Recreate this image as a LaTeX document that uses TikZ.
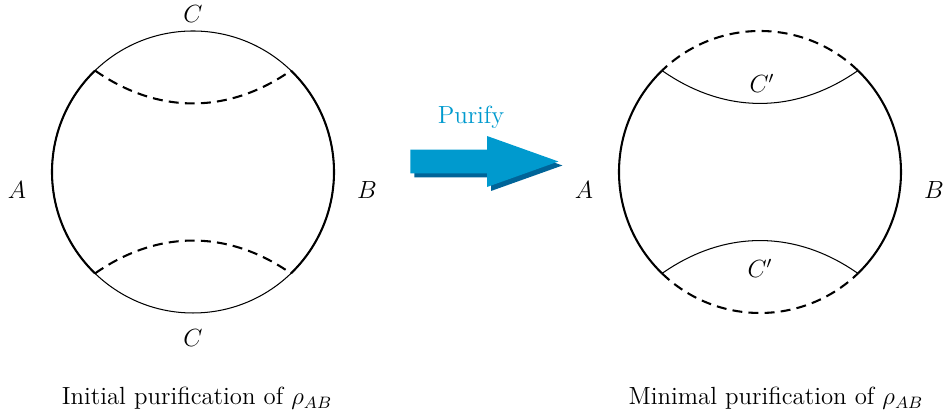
\documentclass[tikz,border=0pt]{standalone}
\usepackage{tikz}
\usetikzlibrary{arrows.meta,positioning,shapes.arrows,shadows}
\definecolor{purifyblue}{RGB}{0,154,206}
\definecolor{purifyshade}{RGB}{0,100,152}

\begin{document}
\begin{tikzpicture}[
  x=0.017cm, y=0.017cm,
  thinarc/.style={line width=0.5pt},
  sidearc/.style={line width=1pt},
  cut/.style={line width=1pt, dash pattern=on 4.8pt off 3pt},
  lbl/.style={font=\large, inner sep=1pt},
  bigarrow/.style={single arrow, fill=purifyblue, draw=none,
                   minimum height=2.516cm, inner xsep=0pt, inner ysep=0.1955cm,
                   single arrow head extend=0.2295cm, single arrow tip angle=39.3,
                   drop shadow={shadow xshift=0.068cm, shadow yshift=-0.068cm,
                                fill=purifyshade, opacity=1}}
]
\useasboundingbox (0,0) rectangle (946,416);

% === Left disk: initial purification ===
\coordinate (lc) at (193,244);
\coordinate (ltl) at ([shift={(lc)}]134:141);
\coordinate (ltr) at ([shift={(lc)}]46:141);
\coordinate (lbl) at ([shift={(lc)}]226:141);
\coordinate (lbr) at ([shift={(lc)}]314:141);

\draw[thinarc] (lc) circle[radius=141];
\draw[sidearc] (ltl) arc[start angle=134, end angle=226, radius=141];
\draw[sidearc] (lbr) arc[start angle=-46, end angle=46, radius=141];
\draw[cut] (ltl) to[bend right=35] (ltr);
\draw[cut] (lbl) to[bend left=35] (lbr);

\node[lbl] (lC1) at (193,402) {$C$};
\node[lbl] (lC2) at (193,78) {$C$};
\node[lbl] (lA) at (17,226) {$A$};
\node[lbl] (lB) at (367,226) {$B$};
\node[lbl] (lcap) at (197,18) {Initial purification of $\rho_{AB}$};

% === Purify arrow ===
\node[bigarrow, anchor=tail] (purify) at (410,254.5) {};
\node[lbl, text=purifyblue] (purifytxt) at (471,299) {Purify};

% === Right disk: minimal purification ===
\coordinate (rc) at (760,244);
\coordinate (rtl) at ([shift={(rc)}]134:141);
\coordinate (rtr) at ([shift={(rc)}]46:141);
\coordinate (rbl) at ([shift={(rc)}]226:141);
\coordinate (rbr) at ([shift={(rc)}]314:141);

\draw[sidearc] (rtl) arc[start angle=134, end angle=226, radius=141];
\draw[sidearc] (rbr) arc[start angle=-46, end angle=46, radius=141];
\draw[cut] (rtr) arc[start angle=46, end angle=134, radius=141];
\draw[cut] (rbl) arc[start angle=226, end angle=314, radius=141];
\draw[thinarc] (rtl) to[bend right=35] (rtr);
\draw[thinarc] (rbl) to[bend left=35] (rbr);

\node[lbl] (rC1) at (762,333) {$C'$};
\node[lbl] (rC2) at (760,148) {$C'$};
\node[lbl] (rA) at (584,226) {$A$};
\node[lbl] (rB) at (934,226) {$B$};
\node[lbl] (rcap) at (776,18) {Minimal purification of $\rho_{AB}$};

\end{tikzpicture}
\end{document}
